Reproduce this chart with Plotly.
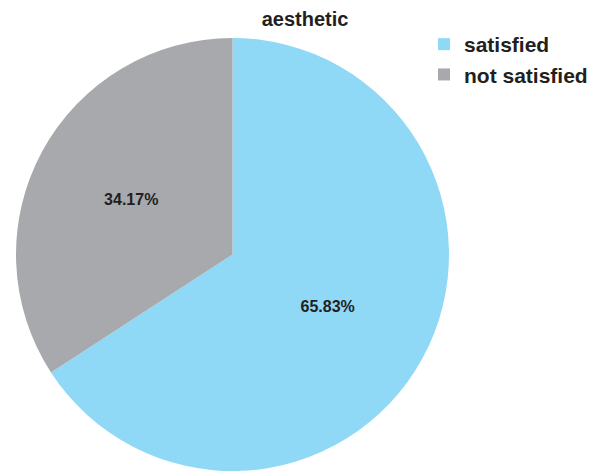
import plotly.graph_objects as go

labels = ["satisfied", "not satisfied"]
values = [65.83, 34.17]
colors = ["#8fd8f6", "#a7a9ac"]
title = "aesthetic"

FONT = "Liberation Sans, Arial, Helvetica, sans-serif"
W, H = 589, 471

fig = go.Figure(go.Pie(
    labels=labels,
    values=values,
    sort=False,
    direction="clockwise",
    rotation=0,
    marker=dict(colors=colors, line=dict(width=0)),
    texttemplate="<b>%{percent:.2%}</b>",
    textposition="inside",
    insidetextorientation="horizontal",
    textfont=dict(family=FONT, size=16, color="#231f20"),
    domain=dict(x=[14/W, 451/W], y=[0, 1 - 38/H]),
    hoverinfo="label+percent",
))

fig.update_layout(
    width=W, height=H,
    margin=dict(l=0, r=0, t=0, b=0, pad=0, autoexpand=False),
    paper_bgcolor="white",
    plot_bgcolor="white",
    title=dict(text="<b>" + title + "</b>", x=305/W, xanchor="center", y=1 - 19/H, yanchor="middle",
               font=dict(family=FONT, size=20, color="#231f20")),
    legend=dict(x=424/W, y=1 - 24/H, xanchor="left", yanchor="top",
                font=dict(family=FONT, size=21, color="#231f20", weight="bold"),
                bgcolor="rgba(0,0,0,0)", borderwidth=0),
)

fig.write_html("out.html", config={"displayModeBar": False},
               post_script="document.body.style.margin='0';")
